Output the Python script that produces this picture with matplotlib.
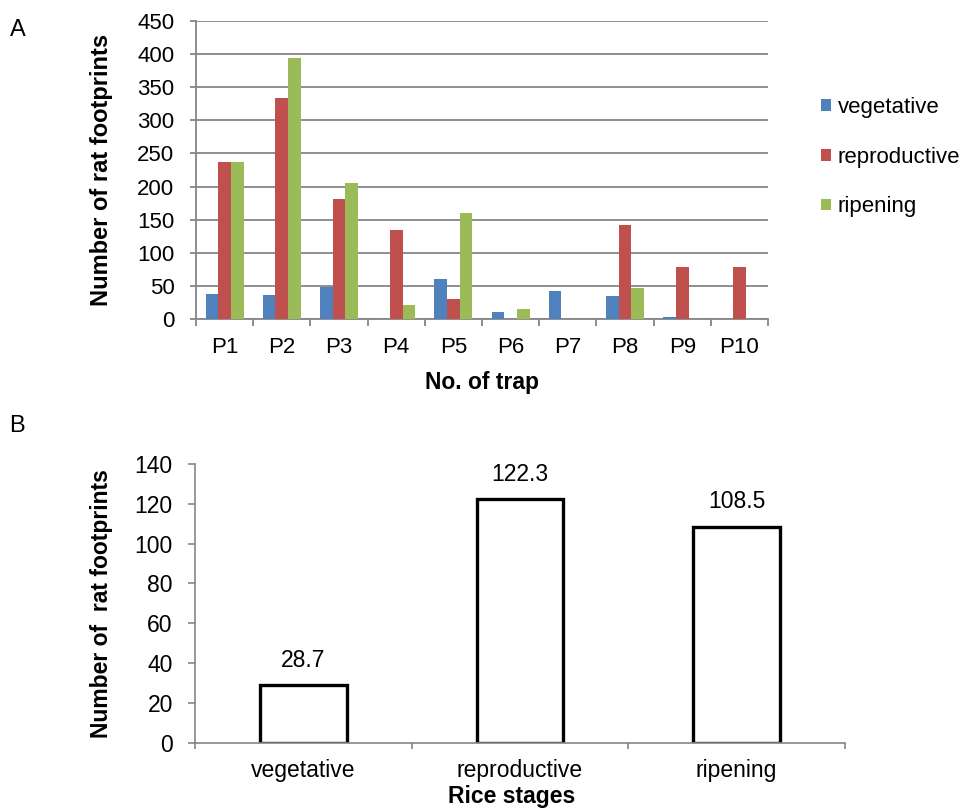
import matplotlib
matplotlib.use("Agg")
import matplotlib.pyplot as plt
import numpy as np

plt.rcParams['font.family'] = ['Liberation Sans', 'DejaVu Sans']

# panel A data
traps = ["P1", "P2", "P3", "P4", "P5", "P6", "P7", "P8", "P9", "P10"]
vegetative = [38, 37, 49, 0, 61, 11, 43, 35, 3, 0]
reproductive = [237, 333, 181, 134, 31, 0, 0, 142, 79, 79]
ripening = [237, 394, 205, 21, 160, 15, 0, 47, 0, 0]
series_names = ["vegetative", "reproductive", "ripening"]
series_colors = ["#4F81BD", "#C0504D", "#9BBB59"]

# panel B data
stages = ["vegetative", "reproductive", "ripening"]
stage_means = [28.7, 122.3, 108.5]

axcol = "#868686"

fig = plt.figure(figsize=(9.74, 8.08), dpi=100)

# ---- panel A ----
axA = fig.add_axes([196/974, 1-319.3/808, 572/974, 298.6/808])
x = np.arange(len(traps))
w = 0.222
for i, (vals, name, col) in enumerate(zip([vegetative, reproductive, ripening], series_names, series_colors)):
    axA.bar(x + (i-1)*w, vals, width=w, color=col, label=name, zorder=3)

axA.set_xlim(-0.5, len(traps)-0.5)
axA.set_ylim(0, 450)
axA.set_yticks(np.arange(0, 451, 50))
axA.yaxis.grid(True, color=axcol, linewidth=1.3, zorder=0)
axA.set_axisbelow(True)
for s in ["top", "right"]:
    axA.spines[s].set_visible(False)
for s in ["left", "bottom"]:
    axA.spines[s].set_color(axcol)
    axA.spines[s].set_linewidth(1.3)
axA.set_xticks(x)
axA.set_xticklabels(traps)
axA.set_xticks(np.arange(-0.5, len(traps), 1.0), minor=True)
axA.tick_params(axis="x", which="major", length=0, pad=13, labelsize=16)
axA.tick_params(axis="x", which="minor", length=5, width=1.3, color=axcol, direction="out")
axA.tick_params(axis="y", length=4.5, width=1.3, color=axcol, pad=11, labelsize=16)
axA.set_ylabel("Number of rat footprints", fontsize=17, fontweight="bold")
axA.yaxis.set_label_coords((113-196)/572, 0.5)
axA.set_xlabel("No. of trap", fontsize=16.5, fontweight="bold", va="center")
axA.xaxis.set_label_coords(0.5, (319.3-382)/298.6)

fig.legend(loc="center left", bbox_to_anchor=(821/974, 1-157/808), frameon=False,
           fontsize=16, handlelength=0.45, handleheight=0.45, handletextpad=0.3,
           labelspacing=1.3, borderpad=0, borderaxespad=0)

# ---- panel B ----
axB = fig.add_axes([195/974, 1-742.5/808, 650/974, 278.5/808])
xb = np.arange(len(stages))
axB.bar(xb, stage_means, width=0.4, facecolor="white", edgecolor="black", linewidth=2.4, zorder=3)
for xi, v in zip(xb, stage_means):
    axB.annotate(f"{v}", (xi, v), xytext=(0, 18), textcoords="offset points",
                 ha="center", va="center", fontsize=16.5)
axB.set_xlim(-0.5, len(stages)-0.5)
axB.set_ylim(0, 140)
axB.set_yticks(np.arange(0, 141, 20))
for s in ["top", "right"]:
    axB.spines[s].set_visible(False)
for s in ["left", "bottom"]:
    axB.spines[s].set_color(axcol)
    axB.spines[s].set_linewidth(1.2)
    axB.spines[s].set_zorder(4)
axB.set_xticks(xb)
axB.set_xticklabels(stages)
axB.set_xticks(np.arange(-0.5, len(stages), 1.0), minor=True)
axB.tick_params(axis="x", which="major", length=0, pad=12, labelsize=16.5)
axB.tick_params(axis="x", which="minor", length=4, width=1.2, color=axcol, direction="out")
axB.tick_params(axis="y", length=5, width=1.2, color=axcol, pad=11, labelsize=16.5)
axB.set_ylabel("Number of  rat footprints", fontsize=16.5, fontweight="bold")
axB.yaxis.set_label_coords((113-195)/650, 0.5)
axB.set_xlabel("Rice stages", fontsize=16.5, fontweight="bold", va="center")
axB.xaxis.set_label_coords((512-195)/650, (742.5-797)/278.5)

fig.text(18/974, 1-30/808, "A", fontsize=17, ha="center", va="center")
fig.text(17/974, 1-426/808, "B", fontsize=17, ha="center", va="center")

fig.savefig("out.png", dpi=100)
